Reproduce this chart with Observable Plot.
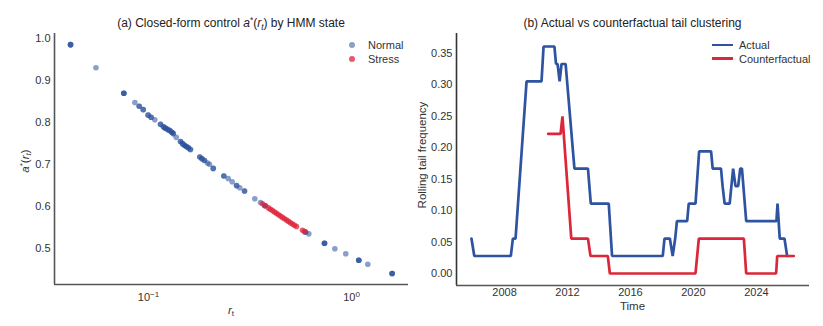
<!DOCTYPE html>
<html>
<head>
<meta charset="utf-8">
<script src="https://cdn.jsdelivr.net/npm/d3@7"></script>
<script src="https://cdn.jsdelivr.net/npm/@observablehq/plot@0.6"></script>
<style>
  body { margin: 0; background: #fff; }
  #wrap { position: relative; width: 823px; height: 326px; font-family: "Liberation Sans", Arial, sans-serif; color: #222; overflow: hidden; }
  #wrap svg { position: absolute; top: 0; }
  .t { position: absolute; white-space: nowrap; line-height: 14px; }
  .sup { font-size: 0.7em; position: relative; top: -0.45em; }
  .sub { font-size: 0.7em; position: relative; top: 0.3em; }
</style>
</head>
<body>
<div id="wrap"></div>
<script>
// ---------- Panel (a): closed-form control by HMM state ----------
// Normal-state observations (r_t, a*(r_t)); repeated entries are overlapping observations
const normalR = [0.0413,0.0413,0.0413, 0.0551, 0.0756,0.0756,0.0756, 0.0857, 0.0900,0.0900, 0.0942,0.0942,
  0.0996,0.0996, 0.1030,0.1030, 0.1074, 0.1146,0.1146,
  0.1186,0.1186, 0.1210,0.1210, 0.1243,0.1243, 0.1273,0.1273, 0.1304,0.1304, 0.1324,0.1324,
  0.137, 0.1438,0.1438, 0.1471,0.1471, 0.1504,0.1504, 0.1538,0.1538, 0.1573,0.1573, 0.1609,0.1609,
  0.179,0.179, 0.1834,0.1834, 0.1887,0.1887, 0.1953, 0.1997, 0.2084,0.2084,
  0.235,0.235, 0.247, 0.2584, 0.2715,0.2715, 0.2816, 0.2972,0.2972, 0.334, 0.3563, 0.374,0.374,
  0.5934,0.5934, 0.6164, 0.736,0.736,0.736, 0.828, 0.937, 1.086,1.086,1.086, 1.203, 1.586,1.586,1.586];
const normalA = [0.986,0.986,0.986, 0.931, 0.870,0.870,0.870, 0.848, 0.839,0.839, 0.831,0.831,
  0.818,0.818, 0.813,0.813, 0.807, 0.796,0.796,
  0.790,0.790, 0.787,0.787, 0.784,0.784, 0.781,0.781, 0.777,0.777, 0.774,0.774,
  0.765, 0.755,0.755, 0.750,0.750, 0.746,0.746, 0.743,0.743, 0.740,0.740, 0.736,0.736,
  0.718,0.718, 0.714,0.714, 0.710,0.710, 0.704, 0.701, 0.691,0.691,
  0.673,0.673, 0.667, 0.659, 0.650,0.650, 0.645, 0.637,0.637, 0.6185, 0.6097, 0.602,0.602,
  0.539,0.539, 0.535, 0.5126,0.5126,0.5126, 0.4993, 0.4874, 0.472,0.472,0.472, 0.4626, 0.4404,0.4404,0.4404];
// Stress-state observations
const stressR = [0.3644, 0.3771, 0.3901, 0.3990, 0.4082, 0.4176, 0.4272, 0.4369, 0.4469, 0.4571,
  0.4677, 0.4784, 0.4893, 0.5006, 0.5121, 0.5239, 0.5359, 0.5736, 0.5868];
const stressA = [0.6066, 0.6018, 0.5968, 0.5935, 0.5904, 0.5870, 0.5839, 0.5806, 0.5773, 0.5742,
  0.5711, 0.5677, 0.5646, 0.5615, 0.5584, 0.5553, 0.5525, 0.5436, 0.5405];
const xTicksA = [0.1, 1];
const xTickLabelsA = ["10|−1", "10|0"];
const yTicksA = [0.5, 0.6, 0.7, 0.8, 0.9, 1.0];

// ---------- Panel (b): actual vs counterfactual rolling tail frequency ----------
const actualT = [2005.90, 2006.08, 2008.40, 2008.53, 2008.70, 2009.40, 2010.35, 2010.48, 2011.17, 2011.27,
  2011.37, 2011.50, 2011.62, 2011.88, 2012.44, 2013.30, 2013.48, 2014.62, 2014.83, 2018.05,
  2018.16, 2018.50, 2018.68, 2018.84, 2018.95, 2019.60, 2019.70, 2020.13, 2020.36, 2021.12,
  2021.22, 2021.75, 2021.85, 2021.98, 2022.30, 2022.52, 2022.67, 2022.84, 2022.97, 2023.08,
  2023.35, 2025.27, 2025.34, 2025.48, 2025.78, 2025.95];
const actualV = [0.0556, 0.0278, 0.0278, 0.0556, 0.0556, 0.3056, 0.3056, 0.3611, 0.3611, 0.3333,
  0.3333, 0.3056, 0.3333, 0.3333, 0.1667, 0.1667, 0.1111, 0.1111, 0.0278, 0.0278,
  0.0556, 0.0556, 0.0278, 0.0556, 0.0833, 0.0833, 0.1111, 0.1111, 0.1944, 0.1944,
  0.1667, 0.1667, 0.1389, 0.1111, 0.1111, 0.1667, 0.1389, 0.1389, 0.1667, 0.1667,
  0.0833, 0.0833, 0.1111, 0.0556, 0.0556, 0.0278];
const cfT = [2010.77, 2011.56, 2011.68, 2012.24, 2013.30, 2013.46, 2014.56, 2014.69, 2020.13, 2020.34,
  2023.20, 2023.35, 2025.25, 2025.32, 2026.37];
const cfV = [0.2222, 0.2222, 0.2500, 0.0556, 0.0556, 0.0278, 0.0278, 0.0000, 0.0000, 0.0556,
  0.0556, 0.0000, 0.0000, 0.0278, 0.0278];
const xTicksB = [2008, 2012, 2016, 2020, 2024];
const yTicksB = [0.00, 0.05, 0.10, 0.15, 0.20, 0.25, 0.30, 0.35];

const BLUE_PT = "#284e9b", RED_PT = "#dc243a";
const BLUE_LN = "#2e53a0", RED_LN = "#dc263a";

const normal = normalR.map((r, i) => ({r, a: normalA[i]}));
const stress = stressR.map((r, i) => ({r, a: stressA[i]}));
const actual = actualT.map((t, i) => ({t, v: actualV[i]}));
const cf = cfT.map((t, i) => ({t, v: cfV[i]}));

const wrap = document.getElementById("wrap");
const font = {fontFamily: '"Liberation Sans", Arial, sans-serif', fontSize: "11px", color: "#333", background: "transparent", overflow: "visible"};

// Panel (a)
const xDomA = [0.03443, 1.909], yDomA = [0.4142, 1.0126];
const left = Plot.plot({
  width: 410, height: 326,
  marginLeft: 54, marginRight: 2, marginTop: 33, marginBottom: 42,
  style: font,
  x: {type: "log", domain: xDomA},
  y: {domain: yDomA},
  marks: [
    Plot.dot(normal, {x: "r", y: "a", r: 2.8, fill: BLUE_PT, fillOpacity: 0.55, stroke: "none"}),
    Plot.dot(stress, {x: "r", y: "a", r: 2.8, fill: RED_PT, fillOpacity: 0.75, stroke: "none"}),
    Plot.ruleX([xDomA[0]], {stroke: "#555", strokeWidth: 1.6}),
    Plot.ruleY([yDomA[0]], {stroke: "#555", strokeWidth: 1.6}),
    Plot.axisX({ticks: xTicksA, tickSize: 0, tickPadding: 9, label: null,
      tickFormat: d => xTickLabelsA[xTicksA.indexOf(d)] ?? ""}),
    Plot.axisY({ticks: yTicksA, tickSize: 0, tickPadding: 4, label: null, tickFormat: d3.format(".1f")})
  ]
});
left.style.left = "0px";
wrap.appendChild(left);
// superscript exponents on log ticks
d3.select(left).selectAll('g[aria-label="x-axis tick label"] text').each(function() {
  const s = this.textContent;
  if (s.includes("|")) {
    const [base, exp] = s.split("|");
    const el = d3.select(this);
    el.text(null);
    el.append("tspan").text(base);
    el.append("tspan").attr("dy", "-0.5em").attr("font-size", "8px").text(exp);
  }
});

// Panel (b)
const xDomB = [2004.95, 2027.37], yDomB = [-0.0191, 0.3818];
const right = Plot.plot({
  width: 413, height: 326,
  marginLeft: 46, marginRight: 14, marginTop: 33, marginBottom: 41,
  style: font,
  x: {domain: xDomB},
  y: {domain: yDomB},
  marks: [
    Plot.ruleX([xDomB[0]], {stroke: "#333", strokeWidth: 1.6}),
    Plot.ruleY([yDomB[0]], {stroke: "#555", strokeWidth: 1.6}),
    Plot.line(actual, {x: "t", y: "v", stroke: BLUE_LN, strokeWidth: 2.7, strokeLinejoin: "miter"}),
    Plot.line(cf, {x: "t", y: "v", stroke: RED_LN, strokeWidth: 2.7, strokeLinejoin: "miter"}),
    Plot.axisX({ticks: xTicksB, tickSize: 0, tickPadding: 3, label: null, tickFormat: d => String(d)}),
    Plot.axisY({ticks: yTicksB, tickSize: 0, tickPadding: 4, label: null, tickFormat: d3.format(".2f")})
  ]
});
right.style.left = "410px";
wrap.appendChild(right);

// Titles, axis labels, legends (HTML text)
function addText(html, css) {
  const d = document.createElement("div");
  d.className = "t";
  d.innerHTML = html;
  Object.assign(d.style, css);
  wrap.appendChild(d);
  return d;
}
const aLabel = '<i>a</i><span class="sup">*</span>(<i>r</i><span class="sub"><i>t</i></span>)';
addText('(a) Closed-form control ' + aLabel + ' by HMM state',
  {left: "54px", width: "354px", textAlign: "center", top: "16px", fontSize: "12px", color: "#222"});
addText('(b) Actual vs counterfactual tail clustering',
  {left: "456px", width: "353px", textAlign: "center", top: "16px", fontSize: "12px", color: "#222"});
addText('<i>r</i><span class="sub">t</span>',
  {left: "54px", width: "354px", textAlign: "center", top: "303px", fontSize: "11.5px", color: "#333"});
addText('Time',
  {left: "456px", width: "353px", textAlign: "center", top: "299px", fontSize: "11.5px", color: "#333"});
addText(aLabel,
  {left: "-24px", width: "100px", textAlign: "center", top: "153px", fontSize: "11.5px", color: "#333", transform: "rotate(-90deg)"});
addText('Rolling tail frequency',
  {left: "362px", width: "120px", textAlign: "center", top: "148px", fontSize: "11.5px", color: "#333", transform: "rotate(-90deg)"});

// Legend (a)
const legA = [["Normal", BLUE_PT, 0.55], ["Stress", RED_PT, 0.75]];
legA.forEach(([name, col, op], i) => {
  const y = 45 + i * 14;
  const c = document.createElement("div");
  Object.assign(c.style, {position: "absolute", left: (352 - 3) + "px", top: (y - 3) + "px", width: "6px", height: "6px",
    borderRadius: "50%", background: col, opacity: op});
  wrap.appendChild(c);
  addText(name, {left: "368px", top: (y - 7) + "px", fontSize: "11px", color: "#333"});
});
// Legend (b)
const legB = [["Actual", BLUE_LN], ["Counterfactual", RED_LN]];
legB.forEach(([name, col], i) => {
  const y = 45 + i * 13.5;
  const l = document.createElement("div");
  Object.assign(l.style, {position: "absolute", left: "712px", top: (y - 1.35) + "px", width: "21px", height: "2.7px", background: col});
  wrap.appendChild(l);
  addText(name, {left: "739px", top: (y - 7) + "px", fontSize: "11px", color: "#333"});
});
</script>
</body>
</html>
